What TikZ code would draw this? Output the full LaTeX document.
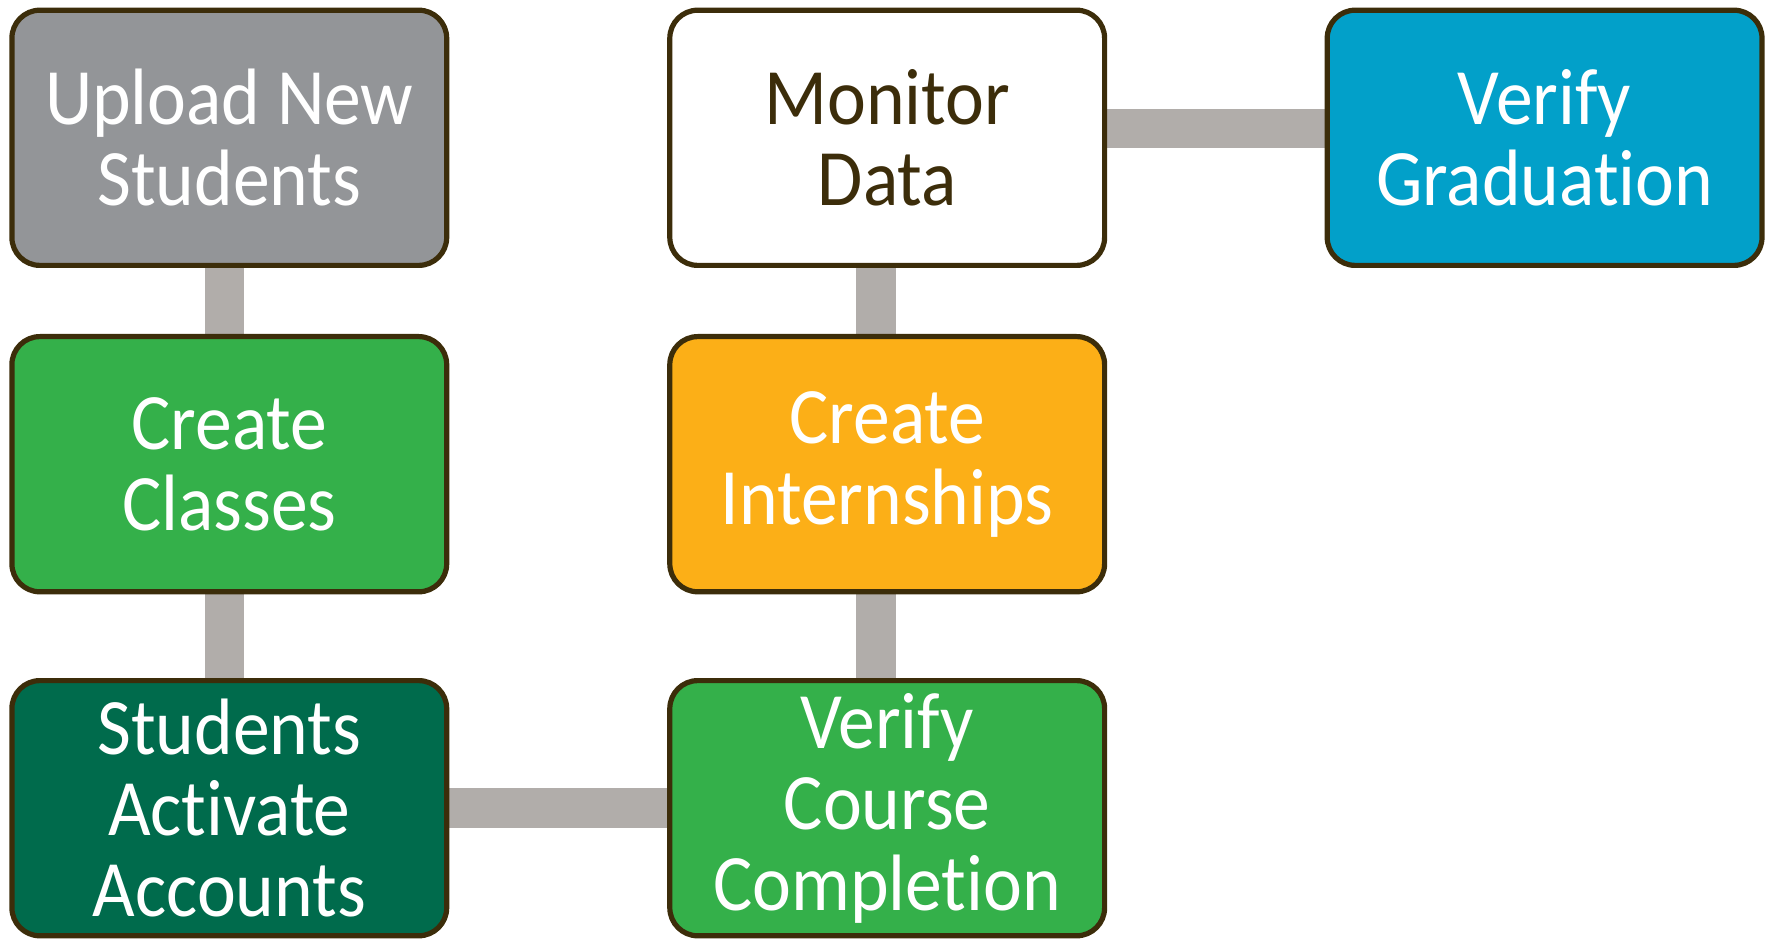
\documentclass[tikz,border=0pt]{standalone}
\usepackage{fontspec}
\setmainfont{Carlito}[FakeStretch=0.92,Ligatures=CommonOff]
\usetikzlibrary{backgrounds}
\definecolor{bordc}{RGB}{60,45,10}
\definecolor{connc}{RGB}{177,173,170}
\definecolor{grayc}{RGB}{147,149,152}
\definecolor{greenc}{RGB}{52,176,74}
\definecolor{dgreenc}{RGB}{0,107,76}
\definecolor{orangec}{RGB}{252,175,23}
\definecolor{bluec}{RGB}{2,160,201}
\begin{document}
\begin{tikzpicture}[x=1pt,y=1pt,
  box/.style={draw=bordc, line width=2.6pt, rounded corners=14pt,
    minimum width=217.4pt, minimum height=127.6pt, inner sep=0pt,
    align=center, text=white, font=\fontsize{40}{40.5}\selectfont},
  conn/.style={draw=connc, line width=19.75pt}]
\useasboundingbox (0,0) rectangle (885.5,-470);
\node[box, fill=grayc] (up) at (114.65,-68.9) {Upload New\\Students};
\node[box, fill=greenc] (cls) at (114.65,-232.1) {Create\\Classes};
\node[box, fill=dgreenc] (act) at (114.65,-404.1) {Students\\Activate\\Accounts};
\node[box, fill=white, text=bordc] (mon) at (443.6,-68.9) {Monitor\\Data};
\node[box, fill=orangec] (intern) at (443.6,-232.1) {Create\\Internships};
\node[box, fill=greenc] (course) at (443.6,-404.1) {Verify\\Course\\Completion};
\node[box, fill=bluec] (grad) at (772.3,-68.9) {Verify\\Graduation};
\begin{scope}[on background layer]
\draw[conn] ([xshift=-2.5pt]up.south) -- ([xshift=-2.5pt]cls.north);
\draw[conn] ([xshift=-2.5pt]cls.south) -- ([xshift=-2.5pt]act.north);
\draw[conn] ([xshift=-5.5pt]mon.south) -- ([xshift=-5.5pt]intern.north);
\draw[conn] ([xshift=-5.5pt]intern.south) -- ([xshift=-5.5pt]course.north);
\draw[conn] (act.east) -- (course.west);
\draw[conn] ([yshift=4.75pt]mon.east) -- ([yshift=4.75pt]grad.west);
\end{scope}
\end{tikzpicture}
\end{document}
